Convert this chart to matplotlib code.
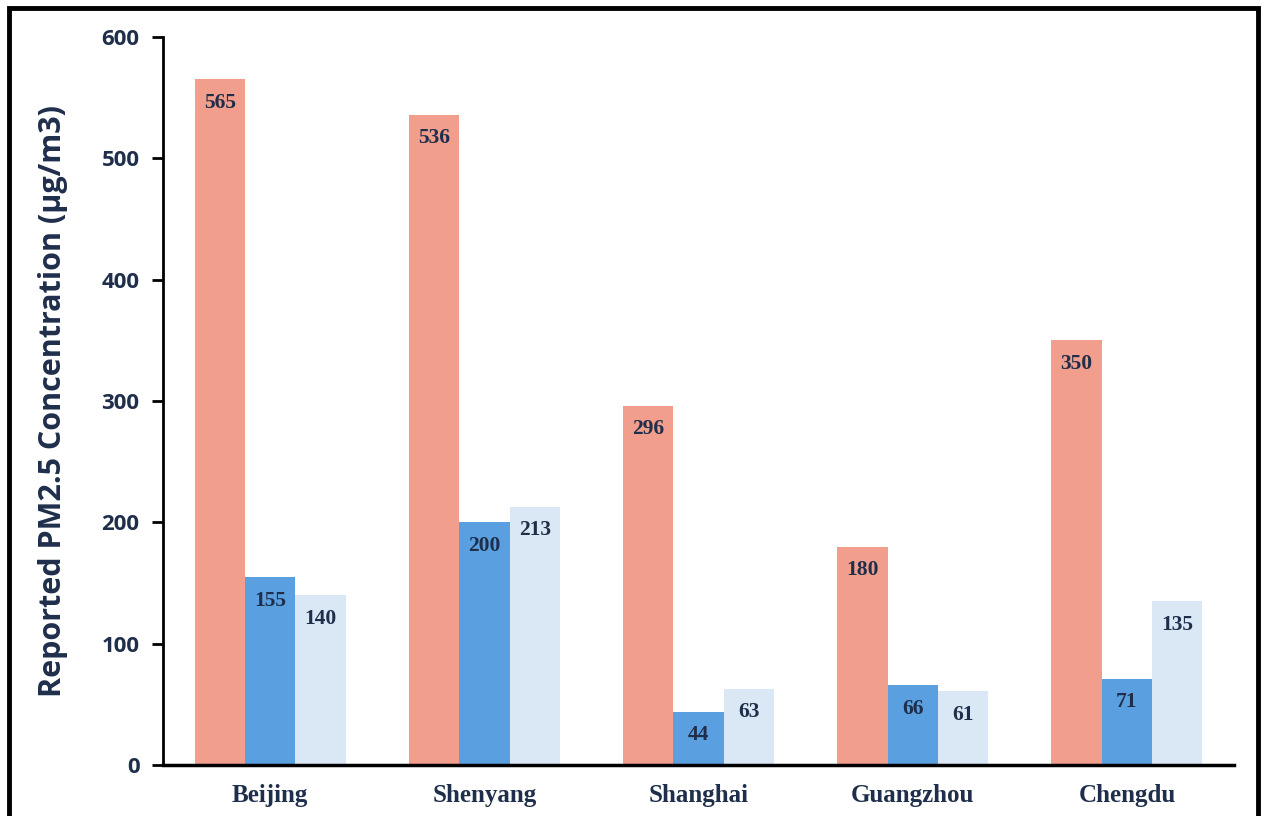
import numpy as np
import matplotlib.pyplot as plt
from matplotlib.patches import Rectangle

cities = ['Beijing', 'Shenyang', 'Shanghai', 'Guangzhou', 'Chengdu']
series_a = [565, 536, 296, 180, 350]
series_b = [155, 200, 44, 66, 71]
series_c = [140, 213, 63, 61, 135]
y_ticks = [0, 100, 200, 300, 400, 500, 600]

colors = ['#F19E8C', '#5A9FE0', '#DAE8F5']
navy = '#1F2E4B'

fig = plt.figure(figsize=(12.65, 8.16), dpi=100)
ax = fig.add_axes([0.1289, 0.0625, 0.8466, 0.8922])

x = np.arange(len(cities))
w = 0.235
for i, vals in enumerate([series_a, series_b, series_c]):
    bars = ax.bar(x + (i - 1) * w, vals, w, color=colors[i], zorder=2)
    for b, v in zip(bars, vals):
        ax.annotate(str(v), (b.get_x() + b.get_width() / 2, v),
                    xytext=(0, -17), textcoords='offset points',
                    ha='center', va='center', fontsize=15.5,
                    family='Liberation Serif', fontweight='bold', color=navy)

ax.set_xlim(-0.5, 4.5)
ax.set_ylim(0, 600)
ax.set_yticks(y_ticks)
ax.set_xticks(x)
ax.set_xticklabels(cities, family='Liberation Serif', fontweight='bold',
                   fontsize=18, color=navy)
for lab in ax.get_yticklabels():
    lab.set_family('Open Sans')
    lab.set_fontweight('bold')
    lab.set_fontsize(16)
    lab.set_color(navy)
ax.tick_params(axis='y', length=8, width=2, pad=9)
ax.tick_params(axis='x', length=0, pad=14)
ax.spines['top'].set_visible(False)
ax.spines['right'].set_visible(False)
ax.spines['left'].set_linewidth(2)
ax.spines['bottom'].set_linewidth(2.5)
ax.set_ylabel('Reported PM2.5 Concentration (µg/m3)', family='Open Sans',
              fontweight='bold', fontsize=22, color=navy, labelpad=24)

fig.patches.append(Rectangle((9 / 1265, -0.05), 1249 / 1265, 1.05 - 8 / 816,
                             transform=fig.transFigure, fill=False,
                             edgecolor='black', linewidth=3.5))

fig.savefig('out.png', dpi=100)
